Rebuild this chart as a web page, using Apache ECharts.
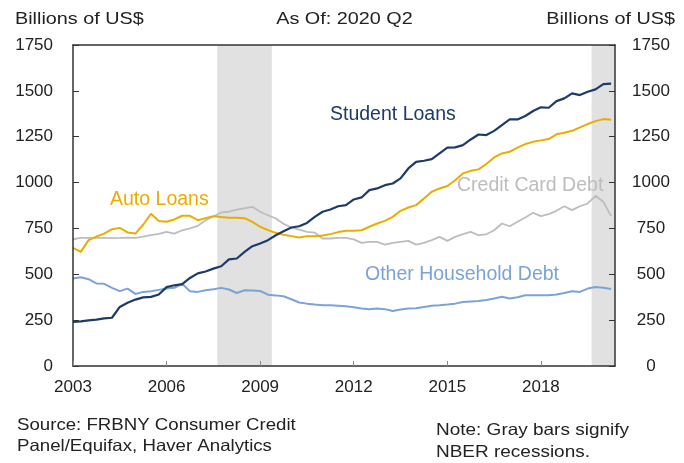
<!DOCTYPE html>
<html>
<head>
<meta charset="utf-8">
<script src="https://cdn.jsdelivr.net/npm/echarts@6/dist/echarts.min.js"></script>
<style>
html,body{margin:0;padding:0;background:#fff;}
#chart{width:684px;height:463px;}
</style>
</head>
<body>
<div id="chart"></div>
<script>
// Quarter categories 2003Q1 .. 2020Q2
const quarters = [];
for (let y = 2003; y <= 2020; y++) {
  for (let q = 1; q <= 4; q++) {
    if (y === 2020 && q > 2) break;
    quarters.push(y + 'Q' + q);
  }
}

// Billions of US$
const studentLoans = [
  241, 243, 249, 253,   260, 263, 322, 345,   362, 374, 377, 390,
  430, 440, 446, 480,   505, 515, 531, 544,   581, 586, 622, 653,
  668, 686, 713, 735,   755, 762, 780, 813,   841, 853, 871, 877,
  908, 919, 959, 968,   986, 995, 1023, 1077, 1113, 1119, 1128, 1159,
  1190, 1192, 1204, 1235, 1262, 1259, 1282, 1313, 1344, 1344, 1363, 1390,
  1410, 1408, 1444, 1459, 1486, 1477, 1495, 1508, 1537, 1539
];
const autoLoans = [
  644, 622, 686, 705,   722, 746, 753, 728,   722, 770, 830, 791,
  786, 799, 819, 819,   795, 806, 817, 812,   808, 808, 806, 786,
  759, 741, 726, 715,   708, 701, 708, 708,   712, 719, 730, 737,
  737, 740, 759, 777,   791, 813, 846, 864,   877, 913, 950, 968,
  981, 1013, 1050, 1064, 1072, 1101, 1137, 1159, 1168, 1190, 1210, 1222,
  1230, 1237, 1263, 1272, 1282, 1301, 1319, 1335, 1346, 1342
];
const creditCardDebt = [
  691, 698, 698, 698,   699, 697, 698, 700,   699, 705, 713, 720,
  731, 722, 740, 750,   764, 795, 815, 837,   841, 853, 860, 868,
  841, 822, 804, 775,   755, 744, 731, 727,   695, 695, 699, 699,
  690, 671, 677, 677,   662, 671, 677, 682,   662, 671, 686, 704,
  682, 704, 719, 731,   713, 718, 740, 777,   762, 786, 810, 835,
  817, 828, 846, 871,   850, 871, 886, 928,   895, 817
];
const otherHouseholdDebt = [
  477, 484, 473, 450,   448, 426, 408, 422,   393, 404, 408, 415,
  422, 426, 448, 408,   404, 413, 418, 426,   417, 398, 413, 411,
  409, 389, 385, 380,   364, 346, 340, 335,   331, 331, 329, 326,
  320, 313, 309, 313,   310, 300, 308, 313,   315, 322, 328, 331,
  335, 340, 349, 352,   355, 360, 368, 377,   368, 375, 386, 386,
  386, 386, 390, 398,   408, 404, 422, 431,   427, 420
];

// NBER recessions (first and last quarter, shaded)
const recessions = [['2007Q4', '2009Q2'], ['2019Q4', '2020Q2']];

// Axis ticks
const yTicks = [0, 250, 500, 750, 1000, 1250, 1500, 1750];
const xTickYears = [2003, 2006, 2009, 2012, 2015, 2018];

function qx(label) {
  const y = parseInt(label.slice(0, 4), 10);
  const q = parseInt(label.slice(5), 10);
  return y + (q - 1) / 4;
}
const HALF_Q = 0.125;

const colors = {
  student: '#1d3b69',
  auto: '#ebac00',
  credit: '#bdbdbd',
  other: '#7ba3d8'
};
const FONT = '"Liberation Sans", Arial, Helvetica, sans-serif';
const axisColor = '#333333';
const textColor = '#222222';

const pairs = arr => quarters.map((q, i) => [qx(q), arr[i]]);

const xMin = xTickYears[0];
const xMax = qx(quarters[quarters.length - 1]) + HALF_Q;

const chart = echarts.init(document.getElementById('chart'), null, {renderer: 'canvas'});

const xAxisCommon = {
  type: 'value',
  min: xMin,
  max: xMax,
  interval: 3,
  splitLine: {show: false},
  axisLine: {show: true, onZero: false, lineStyle: {color: axisColor, width: 1.5}},
  z: 10
};
const yAxisCommon = {
  type: 'value',
  min: yTicks[0],
  max: yTicks[yTicks.length - 1],
  interval: 250,
  splitLine: {show: false},
  axisLine: {show: true, lineStyle: {color: axisColor, width: 1.5}},
  axisTick: {show: true, inside: true, length: 6, lineStyle: {color: axisColor, width: 1}},
  z: 10
};

const textEl = (text, x, y, size, color, align, scaleX) => ({
  type: 'text', x: x, y: y, scaleX: scaleX || 1, z: 100,
  style: {text: text, font: size + 'px ' + FONT, fill: color, textAlign: align, textVerticalAlign: 'middle'}
});

chart.setOption({
  animation: false,
  backgroundColor: '#ffffff',
  grid: {left: 73, right: 69, top: 45, bottom: 97, containLabel: false},
  xAxis: [
    Object.assign({}, xAxisCommon, {
      position: 'bottom',
      axisTick: {show: true, inside: true, length: 5, lineStyle: {color: '#888', width: 1}},
      axisLabel: {
        show: true, margin: 13, color: textColor, fontSize: 17, fontFamily: FONT,
        showMaxLabel: false,
        formatter: v => (xTickYears.indexOf(Math.round(v * 1000) / 1000) >= 0 ? String(v) : '')
      }
    }),
    Object.assign({}, xAxisCommon, {
      position: 'top',
      axisTick: {show: false},
      axisLabel: {show: false}
    })
  ],
  yAxis: [
    Object.assign({}, yAxisCommon, {
      position: 'left',
      axisLabel: {margin: 20, color: textColor, fontSize: 17, fontFamily: FONT, formatter: v => String(v)}
    }),
    Object.assign({}, yAxisCommon, {
      position: 'right',
      axisLabel: {margin: 36, align: 'center', color: textColor, fontSize: 17, fontFamily: FONT, formatter: v => String(v)}
    })
  ],
  series: [
    {
      name: 'recessions',
      type: 'line',
      data: [],
      silent: true,
      z: 1,
      markArea: {
        silent: true,
        itemStyle: {color: '#e1e1e1', opacity: 1},
        data: recessions.map(r => [
          {xAxis: qx(r[0]) - HALF_Q},
          {xAxis: Math.min(qx(r[1]) + HALF_Q, xMax)}
        ])
      }
    },
    {
      name: 'Other Household Debt', type: 'line', data: pairs(otherHouseholdDebt),
      showSymbol: false, z: 3, lineStyle: {color: colors.other, width: 2}
    },
    {
      name: 'Credit Card Debt', type: 'line', data: pairs(creditCardDebt),
      showSymbol: false, z: 3, lineStyle: {color: colors.credit, width: 1.8}
    },
    {
      name: 'Auto Loans', type: 'line', data: pairs(autoLoans),
      showSymbol: false, z: 4, lineStyle: {color: colors.auto, width: 2}
    },
    {
      name: 'Student Loans', type: 'line', data: pairs(studentLoans),
      showSymbol: false, z: 5, lineStyle: {color: colors.student, width: 2.2}
    }
  ],
  graphic: [
    textEl('Billions of US$', 15, 19, 16.5, textColor, 'left', 1.2),
    textEl('As Of: 2020 Q2', 344.5, 19, 16.5, textColor, 'center', 1.2),
    textEl('Billions of US$', 675, 19, 16.5, textColor, 'right', 1.2),

    textEl('Student Loans', 330, 115, 19.5, colors.student, 'left'),
    textEl('Auto Loans', 110, 200, 19.5, colors.auto, 'left'),
    textEl('Credit Card Debt', 457, 186, 19.5, colors.credit, 'left'),
    textEl('Other Household Debt', 365, 275, 19.5, colors.other, 'left'),

    textEl('Source: FRBNY Consumer Credit', 17, 425, 16.5, textColor, 'left', 1.13),
    textEl('Panel/Equifax, Haver Analytics', 17, 446, 16.5, textColor, 'left', 1.13),
    textEl('Note: Gray bars signify', 436, 430, 16.5, textColor, 'left', 1.15),
    textEl('NBER recessions.', 436, 452, 16.5, textColor, 'left', 1.15)
  ]
});
</script>
</body>
</html>
